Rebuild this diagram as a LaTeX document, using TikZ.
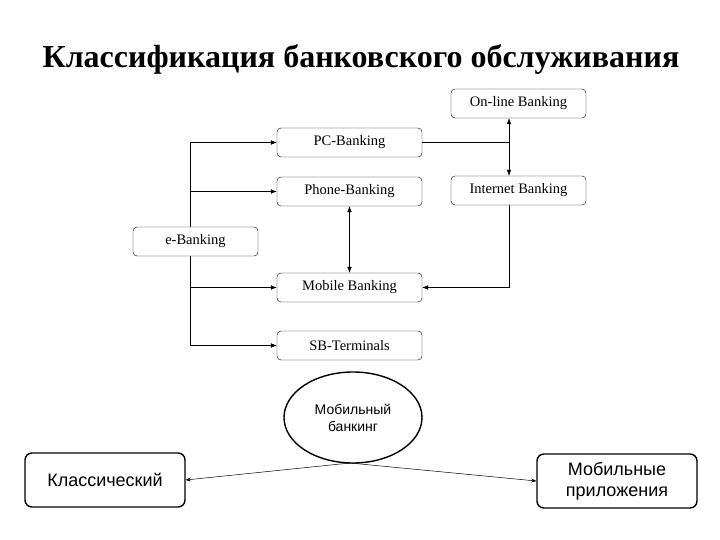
\documentclass[tikz,border=0pt]{standalone}
\usepackage{fontspec}
\setmainfont{Liberation Serif}
\newfontfamily\ruSans{Liberation Sans}
\usetikzlibrary{arrows.meta,shapes.geometric}

\tikzset{
  bankbox/.style={draw, rounded corners=4pt, fill=white, inner sep=0pt,
    minimum height=29pt, font=\fontsize{14.5}{17}\selectfont},
  flow/.style={-{Latex[length=6pt,width=4.5pt]}},
  twoway/.style={{Latex[length=6pt,width=4.5pt]}-{Latex[length=6pt,width=4.5pt]}},
  mobbox/.style={draw, line width=1.4pt, rounded corners=7pt, align=center,
    minimum width=160pt, minimum height=54pt, font=\ruSans\fontsize{18}{21}\selectfont},
  thinarrow/.style={-{Stealth[length=5pt,width=4pt]}, line width=0.5pt}
}

\begin{document}
\begin{tikzpicture}[x=1pt,y=-1pt]
\useasboundingbox (0,0) rectangle (720,540);

\node[anchor=base] (title) at (361,68) {\bfseries\fontsize{32}{36}\selectfont Классификация банковского обслуживания};

% e-Banking scheme
\node[bankbox, minimum width=125pt] (ebank) at (195.5,241.5) {e-Banking};
\node[bankbox, minimum width=145pt] (pc) at (349.5,142.5) {PC-Banking};
\node[bankbox, minimum width=145pt] (phone) at (349.5,191.5) {Phone-Banking};
\node[bankbox, minimum width=145pt] (mobile) at (349.5,287.5) {Mobile Banking};
\node[bankbox, minimum width=145pt] (sbt) at (349.5,345.5) {SB-Terminals};
\node[bankbox, minimum width=135pt] (online) at (518.5,103.5) {On-line Banking};
\node[bankbox, minimum width=135pt] (internet) at (518.5,190.5) {Internet Banking};

\coordinate (trunk) at (190,241.5);
\coordinate (riser) at (509,142.5);

\foreach \t in {pc,phone}
  \draw[flow] (ebank.north -| trunk) |- (\t.west);
\foreach \t in {mobile,sbt}
  \draw[flow] (ebank.south -| trunk) |- (\t.west);

\draw (pc.east) -- (riser);
\draw[twoway] (online.south -| riser) -- (internet.north -| riser);
\draw[twoway] (phone.south) -- (mobile.north);
\draw[flow] (internet.south -| riser) |- (mobile.east);

% mobile banking
\node[ellipse, draw, line width=1.4pt, minimum width=138pt, minimum height=91pt,
  align=center, font=\ruSans\fontsize{14}{17}\selectfont] (mb) at (353,417.5) {Мобильный\\банкинг};
\node[mobbox] (classic) at (105,480) {Классический};
\node[mobbox] (apps) at (617,481) {Мобильные\\приложения};

\coordinate (fork) at (350,463);
\draw[thinarrow] (fork) -- (classic.east);
\draw[thinarrow] (fork) -- (apps.west);
\end{tikzpicture}
\end{document}
